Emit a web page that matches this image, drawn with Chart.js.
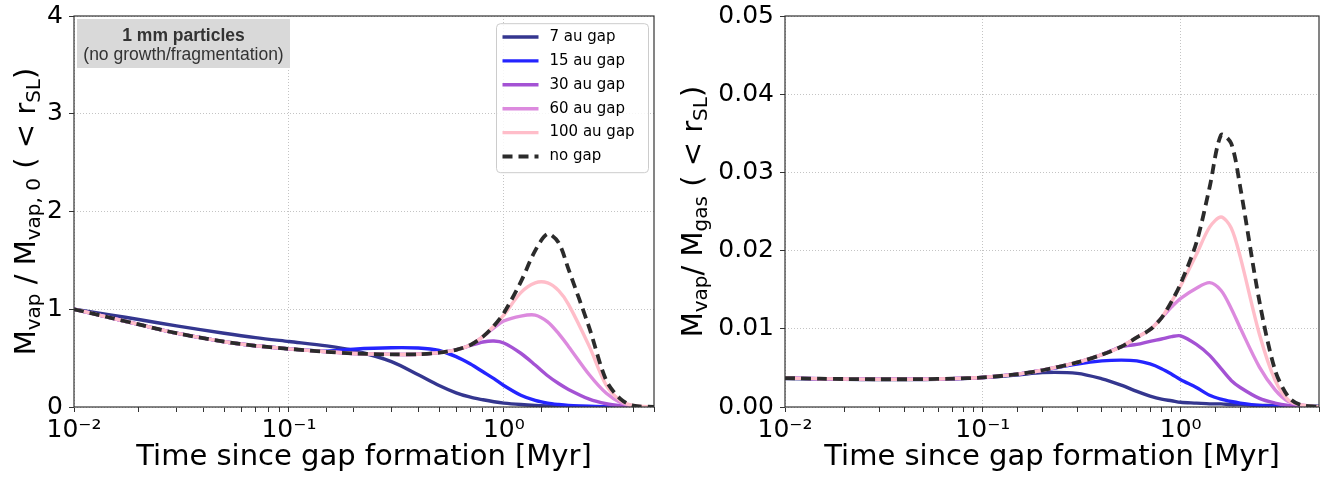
<!DOCTYPE html>
<html>
<head>
<meta charset="utf-8">
<script src="https://cdn.jsdelivr.net/npm/chart.js@4.4.1/dist/chart.umd.min.js"></script>
<style>
  html, body { margin: 0; padding: 0; background: #fff; }
  #wrap { position: relative; width: 1331px; height: 477px; overflow: hidden; }
  #massRatio { position: absolute; left: 0; top: 0; }
  #gasRatio { position: absolute; left: 660px; top: 0; }
</style>
</head>
<body>
<div id="wrap">
  <canvas id="massRatio" width="660" height="477"></canvas>
  <canvas id="gasRatio" width="671" height="477"></canvas>
</div>
<script>
// time since gap formation [Myr]
const times = [0.01, 0.015, 0.02, 0.03, 0.05, 0.07, 0.1, 0.15, 0.2, 0.3, 0.4, 0.5, 0.6, 0.7,
  0.8, 0.9, 1.0, 1.2, 1.4, 1.6, 1.8, 2.0, 2.5, 3.0, 3.5, 4.0, 5.0];

// left panel: M_vap / M_vap,0
const vapGap7 = [1.00, 0.94, 0.895, 0.83, 0.755, 0.71, 0.67, 0.625, 0.578, 0.465, 0.33, 0.22, 0.145, 0.10,
  0.074, 0.054, 0.04, 0.025, 0.016, 0.011, 0.008, 0.006, 0.003, 0.002, 0.001, 0.0005, 0.0];
const vapGap15 = [1.00, 0.91, 0.845, 0.755, 0.668, 0.626, 0.595, 0.572, 0.592, 0.606, 0.603, 0.578, 0.515, 0.44,
  0.36, 0.29, 0.22, 0.12, 0.067, 0.04, 0.026, 0.017, 0.007, 0.003, 0.001, 0.0005, 0.0];
const vapGap30 = [1.00, 0.91, 0.845, 0.755, 0.668, 0.626, 0.595, 0.565, 0.548, 0.538, 0.540, 0.556, 0.585, 0.630,
  0.665, 0.675, 0.655, 0.55, 0.43, 0.32, 0.24, 0.18, 0.08, 0.033, 0.013, 0.005, 0.0];
const vapGap60 = [1.00, 0.91, 0.845, 0.755, 0.668, 0.626, 0.595, 0.565, 0.548, 0.538, 0.540, 0.556, 0.585, 0.635,
  0.72, 0.81, 0.88, 0.93, 0.94, 0.87, 0.75, 0.62, 0.33, 0.14, 0.045, 0.012, 0.0];
const vapGap100 = [1.00, 0.91, 0.845, 0.755, 0.668, 0.626, 0.595, 0.565, 0.548, 0.538, 0.540, 0.556, 0.585, 0.635,
  0.72, 0.83, 0.94, 1.17, 1.27, 1.27, 1.19, 1.05, 0.62, 0.22, 0.065, 0.015, 0.0];
const vapNoGap = [1.00, 0.91, 0.845, 0.755, 0.668, 0.626, 0.595, 0.565, 0.548, 0.538, 0.540, 0.556, 0.585, 0.635,
  0.72, 0.83, 0.96, 1.28, 1.60, 1.77, 1.68, 1.41, 0.81, 0.27, 0.08, 0.015, 0.0];

// right panel: M_vap / M_gas
const gasGap7 = [0.00365, 0.00358, 0.00354, 0.00351, 0.00352, 0.00359, 0.00375, 0.0041, 0.0044, 0.0043, 0.0036, 0.0028,
  0.0020, 0.0014, 0.0010, 0.0008, 0.0006, 0.0005, 0.0004, 0.0004, 0.0003, 0.0003, 0.0002, 0.0002, 0.0001, 0.0001, 0.0001];
const gasGap15 = [0.0037, 0.00362, 0.00358, 0.00355, 0.00356, 0.00363, 0.00378, 0.0042, 0.0047, 0.0055, 0.0059, 0.0060,
  0.0059, 0.0055, 0.0049, 0.0042, 0.0035, 0.0025, 0.0015, 0.0010, 0.0007, 0.0005, 0.0002, 0.0001, 0.0001, 0.0001, 0.0];
const gasGap30 = [0.0037, 0.00362, 0.00358, 0.00355, 0.00356, 0.00363, 0.00378, 0.0042, 0.0047, 0.0057, 0.0067, 0.0077,
  0.0080, 0.0084, 0.0087, 0.0090, 0.0091, 0.0080, 0.0066, 0.0049, 0.0034, 0.0025, 0.0011, 0.0005, 0.0002, 0.0001, 0.0];
const gasGap60 = [0.0037, 0.00362, 0.00358, 0.00355, 0.00356, 0.00363, 0.00378, 0.0042, 0.0047, 0.0057, 0.0067, 0.0077,
  0.0089, 0.0099, 0.0114, 0.0128, 0.0139, 0.0152, 0.0159, 0.0149, 0.0126, 0.0101, 0.0051, 0.0022, 0.0007, 0.0003, 0.0];
const gasGap100 = [0.0037, 0.00362, 0.00358, 0.00355, 0.00356, 0.00363, 0.00378, 0.0042, 0.0047, 0.0057, 0.0067, 0.0077,
  0.0089, 0.0099, 0.0114, 0.0135, 0.0155, 0.0195, 0.0230, 0.0243, 0.0229, 0.0192, 0.0093, 0.0034, 0.0009, 0.0003, 0.0];
const gasNoGap = [0.0037, 0.00362, 0.00358, 0.00355, 0.00356, 0.00363, 0.00378, 0.0042, 0.0047, 0.0057, 0.0067, 0.0077,
  0.0089, 0.0099, 0.0114, 0.0135, 0.0158, 0.0210, 0.0281, 0.0348, 0.0337, 0.0281, 0.0135, 0.0047, 0.0013, 0.0003, 0.0];

const seriesNames = ['7 au gap', '15 au gap', '30 au gap', '60 au gap', '100 au gap', 'no gap'];
const seriesColors = ['#34368f', '#2424ff', '#a452d4', '#dc8ade', '#ffbdc9', '#2b2b2b'];

const supChars = { '-': '\u207B', '0': '\u2070', '1': '\u00B9', '2': '\u00B2', '3': '\u00B3',
  '4': '\u2074', '5': '\u2075', '6': '\u2076', '7': '\u2077', '8': '\u2078', '9': '\u2079' };

function isDecade(v) {
  const e = Math.log10(v);
  return Math.abs(e - Math.round(e)) < 1e-6;
}

function decadeLabel(v) {
  if (!isDecade(v)) return '';
  const e = String(Math.round(Math.log10(v)));
  return '10' + e.split('').map(ch => supChars[ch]).join('');
}

function makeDatasets(list) {
  return list.map((vals, i) => ({
    label: seriesNames[i],
    data: times.map((t, k) => ({ x: t, y: vals[k] })),
    borderColor: seriesColors[i],
    borderWidth: i === 5 ? 3.8 : 3.4,
    borderDash: i === 5 ? [10, 6] : [],
    pointRadius: 0,
    tension: 0.3,
    fill: false,
    order: 5 - i
  }));
}

// text with subscripts, centred on (0,0) baseline
function drawRich(ctx, parts) {
  const main = '29px "DejaVu Sans"', small = '20px "DejaVu Sans"';
  let total = 0;
  parts.forEach(p => { ctx.font = p[1] ? small : main; total += ctx.measureText(p[0]).width; });
  let x = -total / 2;
  ctx.textAlign = 'left';
  ctx.textBaseline = 'alphabetic';
  parts.forEach(p => {
    ctx.font = p[1] ? small : main;
    ctx.fillText(p[0], x, p[1] ? 5 : 0);
    x += ctx.measureText(p[0]).width;
  });
}

const frameAndTitles = {
  id: 'frameAndTitles',
  afterDatasetsDraw(chart, args, opts) {
    const { ctx, chartArea: a } = chart;
    ctx.save();
    ctx.strokeStyle = '#333';
    ctx.lineWidth = 1.2;
    ctx.strokeRect(a.left, a.top, a.right - a.left, a.bottom - a.top);
    ctx.fillStyle = '#000';
    ctx.font = '29px "DejaVu Sans"';
    ctx.textAlign = 'center';
    ctx.textBaseline = 'alphabetic';
    ctx.fillText('Time since gap formation [Myr]', (a.left + a.right) / 2, 465);
    ctx.translate(opts.titleX, (a.top + a.bottom) / 2);
    ctx.rotate(-Math.PI / 2);
    drawRich(ctx, opts.titleParts);
    ctx.restore();
  }
};

const noteAndLegend = {
  id: 'noteAndLegend',
  afterDraw(chart) {
    const { ctx, chartArea: a } = chart;
    ctx.save();
    // particle size note
    ctx.fillStyle = '#d9d9d9';
    ctx.fillRect(a.left + 3, a.top + 3, 213, 49);
    ctx.fillStyle = '#333';
    ctx.textAlign = 'center';
    ctx.textBaseline = 'alphabetic';
    ctx.font = 'bold 17.5px "Liberation Sans"';
    ctx.fillText('1 mm particles', a.left + 109.5, a.top + 24.5);
    ctx.font = '17.5px "Liberation Sans"';
    ctx.fillText('(no growth/fragmentation)', a.left + 109.5, a.top + 43.5);

    // legend
    const bx = a.right - 157.5, by = a.top + 7.7, bw = 152, bh = 149;
    ctx.fillStyle = 'rgba(255,255,255,0.85)';
    ctx.strokeStyle = '#cccccc';
    ctx.lineWidth = 1;
    ctx.beginPath();
    ctx.roundRect(bx, by, bw, bh, 4);
    ctx.fill();
    ctx.stroke();
    ctx.font = '15px "DejaVu Sans"';
    ctx.textAlign = 'left';
    ctx.textBaseline = 'middle';
    chart.data.datasets.forEach((ds, i) => {
      const y = by + 13.3 + i * 23.9;
      ctx.strokeStyle = ds.borderColor;
      ctx.lineWidth = ds.borderWidth;
      ctx.setLineDash(ds.borderDash.length ? [10, 6] : []);
      ctx.beginPath();
      ctx.moveTo(bx + 6, y);
      ctx.lineTo(bx + 42, y);
      ctx.stroke();
      ctx.setLineDash([]);
      ctx.fillStyle = '#000';
      ctx.fillText(ds.label, bx + 53, y);
    });
    ctx.restore();
  }
};

function panelOptions(yMax, yStep, yWidth, rightPad, yFmt, titleX, titleParts) {
  const tickFont = { family: 'DejaVu Sans', size: 25 };
  return {
    responsive: false,
    animation: false,
    devicePixelRatio: 1,
    layout: { padding: { top: 10, right: rightPad, bottom: 0, left: 0 } },
    plugins: {
      legend: { display: false },
      tooltip: { enabled: false },
      frameAndTitles: { titleX: titleX, titleParts: titleParts }
    },
    scales: {
      x: {
        type: 'logarithmic',
        min: 0.01,
        max: 5,
        afterFit: s => { s.height = 70; },
        border: { display: false, dash: [1, 2] },
        grid: {
          color: c => (c.tick && isDecade(c.tick.value)) ? '#c4c4c4' : 'rgba(0,0,0,0)',
          tickColor: '#333',
          tickLength: 5
        },
        ticks: {
          autoSkip: false,
          maxRotation: 0,
          padding: 3,
          color: '#000',
          font: Object.assign({ lineHeight: 1.2 }, tickFont),
          callback: v => decadeLabel(v)
        }
      },
      y: {
        min: 0,
        max: yMax,
        afterFit: s => { s.width = yWidth; },
        border: { display: false, dash: [1, 2] },
        grid: { color: '#c4c4c4', tickColor: '#333', tickLength: 5 },
        ticks: {
          stepSize: yStep,
          padding: 6,
          color: '#000',
          font: Object.assign({ lineHeight: 0.8 }, tickFont),
          callback: yFmt
        }
      }
    }
  };
}

new Chart(document.getElementById('massRatio'), {
  type: 'line',
  data: { datasets: makeDatasets([vapGap7, vapGap15, vapGap30, vapGap60, vapGap100, vapNoGap]) },
  options: panelOptions(4, 1, 74, 6, v => String(Math.round(v)), 35,
    [['M', 0], ['vap', 1], [' / M', 0], ['vap, 0', 1], [' ( < r', 0], ['SL', 1], [')', 0]]),
  plugins: [frameAndTitles, noteAndLegend]
});

new Chart(document.getElementById('gasRatio'), {
  type: 'line',
  data: { datasets: makeDatasets([gasGap7, gasGap15, gasGap30, gasGap60, gasGap100, gasNoGap]) },
  options: panelOptions(0.05, 0.01, 125, 12, v => v.toFixed(2), 42,
    [['M', 0], ['vap', 1], ['/ M', 0], ['gas', 1], [' ( < r', 0], ['SL', 1], [')', 0]]),
  plugins: [frameAndTitles]
});
</script>
</body>
</html>
